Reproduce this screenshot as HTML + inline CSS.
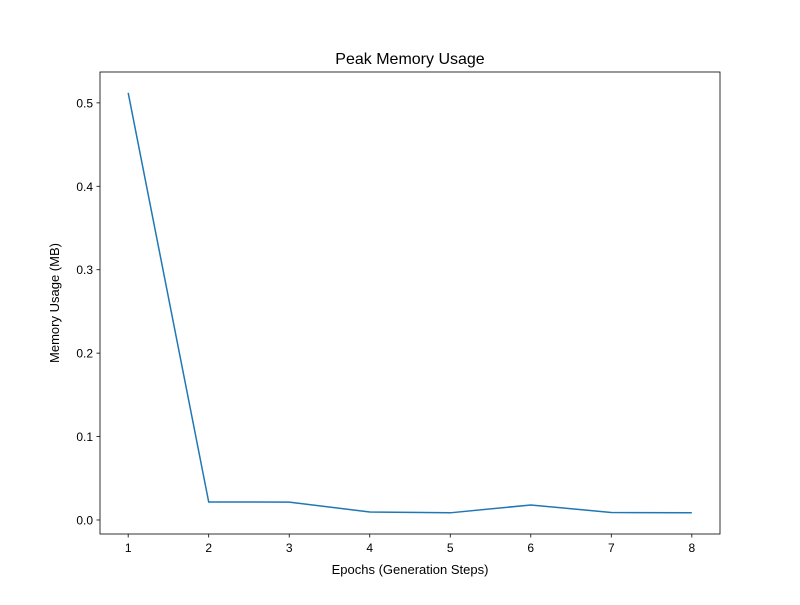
<!DOCTYPE html>
<html><head><meta charset="utf-8"><style>
body{margin:0;background:#fff;}
svg text{font-family:"Liberation Sans","DejaVu Sans",sans-serif;fill:#000;}
</style></head><body>
<svg id="chart" width="800" height="600" xmlns="http://www.w3.org/2000/svg">
<rect width="800" height="600" fill="#fff"/>
<text x="410" y="64" font-size="16" text-anchor="middle">Peak Memory Usage</text>
<g id="xt"></g>
<g id="yt"></g>
<path id="line" fill="none" stroke="#1f77b4" stroke-width="1.5"/>
<rect x="100" y="72" width="620" height="462" fill="none" stroke="#000" stroke-width="0.8"/>
<text x="410" y="574" font-size="13" text-anchor="middle">Epochs (Generation Steps)</text>
<text transform="translate(59,303) rotate(-90)" font-size="13" text-anchor="middle">Memory Usage (MB)</text>
</svg>
<script>
const epochs=[1,2,3,4,5,6,7,8];
const memory=[0.512,0.0216,0.0214,0.0096,0.0086,0.018,0.009,0.0086];
const xTicks=[1,2,3,4,5,6,7,8];
const yTicks=[0.0,0.1,0.2,0.3,0.4,0.5];
const yTickLabels=["0.0","0.1","0.2","0.3","0.4","0.5"];
const NS="http://www.w3.org/2000/svg";
const L=100,R=720,T=72,B=534;
const xmin=0.65,xmax=8.35,ymin=-0.0168,ymax=0.537;
const xs=v=>L+(v-xmin)/(xmax-xmin)*(R-L);
const ys=v=>B-(v-ymin)/(ymax-ymin)*(B-T);
function mk(tag,attrs,parent){const e=document.createElementNS(NS,tag);for(const k in attrs)e.setAttribute(k,attrs[k]);parent.appendChild(e);return e;}
const xt=document.getElementById('xt'),yt=document.getElementById('yt');
xTicks.forEach(t=>{
 const l=mk('line',{x1:xs(t),x2:xs(t),y1:B,y2:B+3.5,stroke:'#000','stroke-width':0.8},xt);
 
 
 const tx=mk('text',{x:xs(t),y:B+18,'font-size':12,'text-anchor':'middle'},xt);
 tx.textContent=t;
 
 
});
yTicks.forEach((t,i)=>{
 const l=mk('line',{x1:L-3.5,x2:L,y1:ys(t),y2:ys(t),stroke:'#000','stroke-width':0.8},yt);
 
 
 const tx=mk('text',{x:L-7,y:ys(t)+4.5,'font-size':12,'text-anchor':'end'},yt);
 tx.textContent=yTickLabels[i];
 
 
});
document.getElementById('line').setAttribute('d',epochs.map((e,i)=>(i?'L':'M')+xs(e)+','+ys(memory[i])).join(' '));
</script>
</body></html>
